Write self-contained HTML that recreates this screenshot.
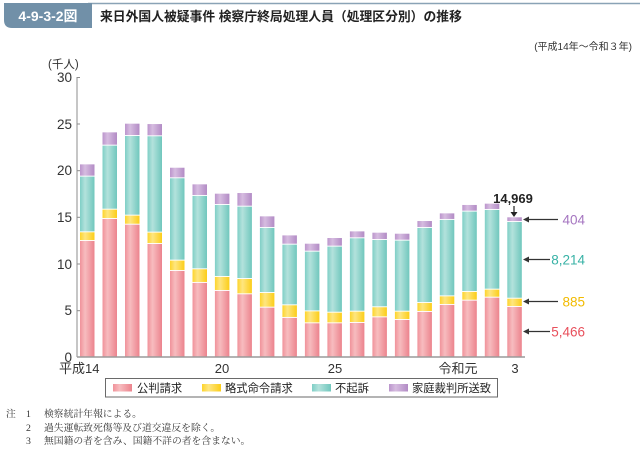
<!DOCTYPE html>
<html lang="ja">
<head>
<meta charset="utf-8">
<style>
  html,body{margin:0;padding:0;background:#fff;}
  body{width:640px;height:449px;overflow:hidden;position:relative;}
  svg{position:absolute;left:0;top:0;}
  .s{font-family:"Liberation Sans","Noto Sans CJK JP",sans-serif;}
  .m{font-family:"Liberation Serif","Noto Serif CJK SC",serif;}
</style>
</head>
<body>
<svg width="640" height="449" viewBox="0 0 640 449" xmlns="http://www.w3.org/2000/svg">
  <defs>
    <linearGradient id="gp" x1="0" y1="0" x2="1" y2="0">
      <stop offset="0" stop-color="#f0929a"/>
      <stop offset="0.35" stop-color="#f7bcbf"/>
      <stop offset="1" stop-color="#ec838d"/>
    </linearGradient>
    <linearGradient id="gy" x1="0" y1="0" x2="1" y2="0">
      <stop offset="0" stop-color="#fdd42c"/>
      <stop offset="0.35" stop-color="#fee680"/>
      <stop offset="1" stop-color="#fccd18"/>
    </linearGradient>
    <linearGradient id="gt" x1="0" y1="0" x2="1" y2="0">
      <stop offset="0" stop-color="#7fcfc6"/>
      <stop offset="0.35" stop-color="#b3e2dc"/>
      <stop offset="1" stop-color="#70c7bd"/>
    </linearGradient>
    <linearGradient id="gv" x1="0" y1="0" x2="1" y2="0">
      <stop offset="0" stop-color="#bb95cc"/>
      <stop offset="0.35" stop-color="#d6bce0"/>
      <stop offset="1" stop-color="#b28bc5"/>
    </linearGradient>
  </defs>

  <!-- Header -->
  <line x1="88" y1="3.5" x2="640" y2="3.5" stroke="#8aa3b6" stroke-width="1.5"/>
  <path d="M4 3 H92 V28 H12 Q4 28 4 20 Z" fill="#7190a8"/>
  <text x="48" y="21" text-anchor="middle" class="s" font-size="14" font-weight="bold" fill="#fff">4-9-3-2図</text>
  <text x="100" y="21" class="s" font-size="12.8" font-weight="bold" fill="#222">来日外国人被疑事件 検察庁終局処理人員（処理区分別）の推移</text>
  <text x="632" y="50" text-anchor="end" class="s" font-size="10" fill="#333">(平成14年～令和３年)</text>

  <!-- Y axis -->
  <text x="48" y="68" class="s" font-size="11.5" fill="#333">(千人)</text>
  <g class="s" font-size="13.5" fill="#333" text-anchor="end">
    <text x="72" y="82">30</text>
    <text x="72" y="129">25</text>
    <text x="72" y="175">20</text>
    <text x="72" y="222">15</text>
    <text x="72" y="269">10</text>
    <text x="72" y="315">5</text>
    <text x="72" y="362">0</text>
  </g>
  <line x1="77" y1="77" x2="77" y2="357" stroke="#8c8c8c" stroke-width="1"/>
  <g stroke="#8c8c8c" stroke-width="1">
    <line x1="77" y1="77.5" x2="80" y2="77.5"/>
    <line x1="77" y1="124" x2="80" y2="124"/>
    <line x1="77" y1="170.7" x2="80" y2="170.7"/>
    <line x1="77" y1="217.3" x2="80" y2="217.3"/>
    <line x1="77" y1="264" x2="80" y2="264"/>
    <line x1="77" y1="310.7" x2="80" y2="310.7"/>
  </g>

  <!-- Bars -->
  <g transform="translate(0,357) scale(1,-9.333)">
    <g fill="url(#gp)">
      <rect x="80.0" y="0" width="14.5" height="12.43"/>
      <rect x="102.5" y="0" width="14.5" height="14.79"/>
      <rect x="125.0" y="0" width="14.5" height="14.18"/>
      <rect x="147.5" y="0" width="14.5" height="12.11"/>
      <rect x="170.0" y="0" width="14.5" height="9.22"/>
      <rect x="192.5" y="0" width="14.5" height="7.94"/>
      <rect x="214.9" y="0" width="14.5" height="7.08"/>
      <rect x="237.4" y="0" width="14.5" height="6.72"/>
      <rect x="259.9" y="0" width="14.5" height="5.29"/>
      <rect x="282.4" y="0" width="14.5" height="4.19"/>
      <rect x="304.9" y="0" width="14.5" height="3.61"/>
      <rect x="327.4" y="0" width="14.5" height="3.61"/>
      <rect x="349.9" y="0" width="14.5" height="3.65"/>
      <rect x="372.4" y="0" width="14.5" height="4.25"/>
      <rect x="394.9" y="0" width="14.5" height="3.97"/>
      <rect x="417.4" y="0" width="14.5" height="4.83"/>
      <rect x="439.8" y="0" width="14.5" height="5.58"/>
      <rect x="462.3" y="0" width="14.5" height="6.04"/>
      <rect x="484.8" y="0" width="14.5" height="6.36"/>
      <rect x="507.3" y="0" width="14.5" height="5.366"/>
    </g>
    <g fill="url(#gy)">
      <rect x="80.0" y="12.53" width="14.5" height="0.83"/>
      <rect x="102.5" y="14.89" width="14.5" height="0.90"/>
      <rect x="125.0" y="14.28" width="14.5" height="0.87"/>
      <rect x="147.5" y="12.21" width="14.5" height="1.12"/>
      <rect x="170.0" y="9.32" width="14.5" height="1.01"/>
      <rect x="192.5" y="8.04" width="14.5" height="1.36"/>
      <rect x="214.9" y="7.18" width="14.5" height="1.40"/>
      <rect x="237.4" y="6.82" width="14.5" height="1.54"/>
      <rect x="259.9" y="5.39" width="14.5" height="1.47"/>
      <rect x="282.4" y="4.29" width="14.5" height="1.25"/>
      <rect x="304.9" y="3.71" width="14.5" height="1.18"/>
      <rect x="327.4" y="3.71" width="14.5" height="1.04"/>
      <rect x="349.9" y="3.75" width="14.5" height="1.11"/>
      <rect x="372.4" y="4.35" width="14.5" height="0.98"/>
      <rect x="394.9" y="4.07" width="14.5" height="0.79"/>
      <rect x="417.4" y="4.93" width="14.5" height="0.86"/>
      <rect x="439.8" y="5.68" width="14.5" height="0.82"/>
      <rect x="462.3" y="6.14" width="14.5" height="0.83"/>
      <rect x="484.8" y="6.46" width="14.5" height="0.76"/>
      <rect x="507.3" y="5.466" width="14.5" height="0.785"/>
    </g>
    <g fill="url(#gt)">
      <rect x="80.0" y="13.46" width="14.5" height="5.87"/>
      <rect x="102.5" y="15.89" width="14.5" height="6.76"/>
      <rect x="125.0" y="15.25" width="14.5" height="8.43"/>
      <rect x="147.5" y="13.43" width="14.5" height="10.22"/>
      <rect x="170.0" y="10.43" width="14.5" height="8.72"/>
      <rect x="192.5" y="9.5" width="14.5" height="7.76"/>
      <rect x="214.9" y="8.68" width="14.5" height="7.61"/>
      <rect x="237.4" y="8.46" width="14.5" height="7.65"/>
      <rect x="259.9" y="6.96" width="14.5" height="6.87"/>
      <rect x="282.4" y="5.64" width="14.5" height="6.40"/>
      <rect x="304.9" y="4.99" width="14.5" height="6.30"/>
      <rect x="327.4" y="4.85" width="14.5" height="6.98"/>
      <rect x="349.9" y="4.96" width="14.5" height="7.76"/>
      <rect x="372.4" y="5.43" width="14.5" height="7.11"/>
      <rect x="394.9" y="4.96" width="14.5" height="7.51"/>
      <rect x="417.4" y="5.89" width="14.5" height="7.94"/>
      <rect x="439.8" y="6.6" width="14.5" height="8.09"/>
      <rect x="462.3" y="7.07" width="14.5" height="8.51"/>
      <rect x="484.8" y="7.32" width="14.5" height="8.44"/>
      <rect x="507.3" y="6.351" width="14.5" height="8.114"/>
    </g>
    <g fill="url(#gv)">
      <rect x="80.0" y="19.43" width="14.5" height="1.21"/>
      <rect x="102.5" y="22.75" width="14.5" height="1.32"/>
      <rect x="125.0" y="23.78" width="14.5" height="1.22"/>
      <rect x="147.5" y="23.75" width="14.5" height="1.21"/>
      <rect x="170.0" y="19.25" width="14.5" height="1.03"/>
      <rect x="192.5" y="17.36" width="14.5" height="1.14"/>
      <rect x="214.9" y="16.39" width="14.5" height="1.11"/>
      <rect x="237.4" y="16.21" width="14.5" height="1.36"/>
      <rect x="259.9" y="13.93" width="14.5" height="1.14"/>
      <rect x="282.4" y="12.14" width="14.5" height="0.89"/>
      <rect x="304.9" y="11.39" width="14.5" height="0.75"/>
      <rect x="327.4" y="11.93" width="14.5" height="0.82"/>
      <rect x="349.9" y="12.82" width="14.5" height="0.64"/>
      <rect x="372.4" y="12.64" width="14.5" height="0.68"/>
      <rect x="394.9" y="12.57" width="14.5" height="0.64"/>
      <rect x="417.4" y="13.93" width="14.5" height="0.64"/>
      <rect x="439.8" y="14.79" width="14.5" height="0.60"/>
      <rect x="462.3" y="15.68" width="14.5" height="0.61"/>
      <rect x="484.8" y="15.86" width="14.5" height="0.57"/>
      <rect x="507.3" y="14.565" width="14.5" height="0.404"/>
    </g>
  </g>

  <!-- Baseline -->
  <line x1="77" y1="357" x2="525" y2="357" stroke="#9a9a9a" stroke-width="1.5"/>

  <!-- X labels -->
  <g class="s" font-size="13" fill="#333">
    <text x="59" y="373">平成14</text>
    <text x="222" y="373" text-anchor="middle">20</text>
    <text x="335" y="373" text-anchor="middle">25</text>
    <text x="458" y="373" text-anchor="middle">令和元</text>
    <text x="515" y="373" text-anchor="middle">3</text>
  </g>

  <!-- Total annotation -->
  <text x="513" y="203" text-anchor="middle" class="s" font-size="13" font-weight="bold" fill="#222">14,969</text>
  <line x1="514" y1="206" x2="514" y2="213" stroke="#222" stroke-width="1.2"/>
  <path d="M510.5 212 L517.5 212 L514 217 Z" fill="#222"/>

  <!-- Right arrows & labels -->
  <g stroke="#333" stroke-width="1.2">
    <line x1="527" y1="219.5" x2="558" y2="219.5"/>
    <line x1="527" y1="259.5" x2="550" y2="259.5"/>
    <line x1="527" y1="301.5" x2="558" y2="301.5"/>
    <line x1="527" y1="331.5" x2="550" y2="331.5"/>
  </g>
  <g fill="#333">
    <path d="M523 219.5 L529 216.5 L529 222.5 Z"/>
    <path d="M523 259.5 L529 256.5 L529 262.5 Z"/>
    <path d="M523 301.5 L529 298.5 L529 304.5 Z"/>
    <path d="M523 331.5 L529 328.5 L529 334.5 Z"/>
  </g>
  <g class="s" font-size="13.5" text-anchor="end">
    <text x="585" y="224.5" fill="#a575c0">404</text>
    <text x="585" y="264.5" fill="#38b2a6">8,214</text>
    <text x="585" y="306.5" fill="#f2bb00">885</text>
    <text x="585" y="336.5" fill="#e8505c">5,466</text>
  </g>

  <!-- Legend -->
  <rect x="105.5" y="378.5" width="392" height="18.5" fill="#fff" stroke="#6a6a6a" stroke-width="1"/>
  <rect x="113" y="384" width="19" height="7.5" fill="url(#gp)"/>
  <rect x="202" y="384" width="19" height="7.5" fill="url(#gy)"/>
  <rect x="312" y="384" width="19" height="7.5" fill="url(#gt)"/>
  <rect x="389" y="384" width="19" height="7.5" fill="url(#gv)"/>
  <g class="s" font-size="11.3" fill="#222">
    <text x="137" y="392">公判請求</text>
    <text x="225" y="392">略式命令請求</text>
    <text x="335" y="392">不起訴</text>
    <text x="412" y="392">家庭裁判所送致</text>
  </g>

  <!-- Notes -->
  <g class="m" font-size="9.8" fill="#333">
    <text x="6" y="417">注</text>
    <text x="26" y="417">1</text>
    <text x="26" y="431">2</text>
    <text x="26" y="444">3</text>
    <text x="44" y="417">検察統計年報による。</text>
    <text x="44" y="431">過失運転致死傷等及び道交違反を除く。</text>
    <text x="44" y="444">無国籍の者を含み、国籍不詳の者を含まない。</text>
  </g>
</svg>
</body>
</html>
